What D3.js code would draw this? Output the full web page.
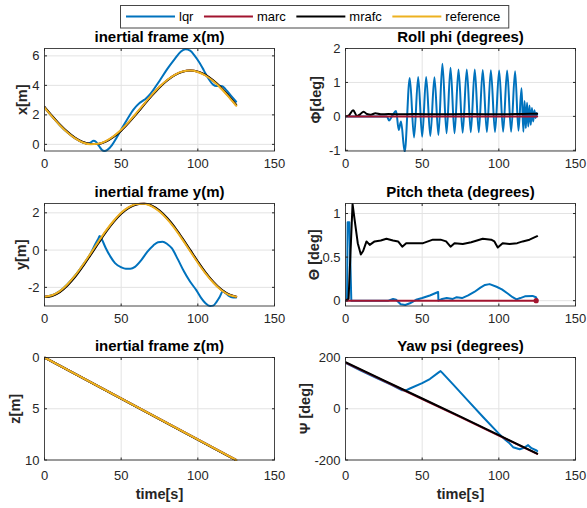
<!DOCTYPE html>
<html>
<head>
<meta charset="utf-8">
<script src="https://cdn.jsdelivr.net/npm/d3@7"></script>
<style>
  html, body { margin: 0; padding: 0; background: #fff; }
  svg { display: block; font-family: "Liberation Sans", Arial, Helvetica, sans-serif; }
</style>
</head>
<body>
<svg id="chart" width="587" height="508"></svg>
<script>
// ---------- data ----------
const seriesNames = ["lqr", "marc", "mrafc", "reference"];

// common 5 s sample grid for the tracked trajectories
const tGrid = [0,5,10,15,20,25,30,35,40,45,50,55,60,65,70,75,80,85,90,95,100,105,110,115,120,125];

// inertial x (m)
const refX   = [2.50,1.88,1.30,0.80,0.40,0.13,0.01,0.04,0.22,0.55,0.99,1.53,2.13,2.75,3.36,3.91,4.37,4.72,4.94,5.00,4.91,4.67,4.29,3.81,3.24,2.62];
const marcX  = [2.52,1.90,1.32,0.82,0.42,0.14,0.02,0.03,0.20,0.53,0.96,1.50,2.10,2.72,3.33,3.89,4.35,4.71,4.93,5.00,4.92,4.69,4.31,3.84,3.27,2.65];
const mrafcX = [2.55,1.93,1.35,0.85,0.44,0.16,0.03,0.02,0.18,0.50,0.93,1.47,2.07,2.69,3.30,3.86,4.33,4.69,4.92,5.00,4.93,4.71,4.34,3.87,3.30,2.68];
const lqrX = [[0,2.5],[5,1.88],[10,1.3],[15,0.8],[20,0.4],[25,0.13],[28,0.04],[30,0.12],[32,0.25],[33.5,0.18],
  [35.5,-0.1],[37.5,-0.38],[39,-0.45],[41,-0.38],[44,-0.05],[47,0.45],[50,1.0],[54,1.7],[58,2.35],[62,2.8],
  [64,2.95],[66,3.1],[68,3.3],[71,3.7],[75,4.3],[80,5.1],[85,5.8],[89,6.3],[92,6.45],[95,6.35],[98,6.0],
  [101,5.55],[104,5.0],[107,4.45],[110,4.05],[112,3.95],[114,3.97],[116,3.95],[118,3.75],[120,3.5],[122,3.25],[125,2.9]];

// inertial y (m)
const refY   = [-2.50,-2.42,-2.20,-1.83,-1.36,-0.80,-0.19,0.43,1.03,1.56,2.00,2.30,2.47,2.49,2.35,2.07,1.66,1.15,0.56,-0.06,-0.68,-1.25,-1.74,-2.13,-2.39,-2.50];
const marcY  = [-2.51,-2.44,-2.23,-1.86,-1.40,-0.84,-0.23,0.39,1.00,1.53,1.98,2.29,2.46,2.50,2.37,2.10,1.69,1.19,0.60,-0.02,-0.64,-1.22,-1.71,-2.11,-2.38,-2.50];
const mrafcY = [-2.52,-2.46,-2.26,-1.90,-1.44,-0.88,-0.27,0.35,0.96,1.50,1.95,2.27,2.45,2.50,2.38,2.12,1.72,1.22,0.63,0.01,-0.61,-1.19,-1.69,-2.09,-2.37,-2.50];
const lqrY = [[0,-2.5],[5,-2.42],[10,-2.2],[15,-1.83],[20,-1.36],[25,-0.8],[30,-0.19],[33,0.3],[35,0.6],[36,0.75],
  [37.5,0.55],[40,0.1],[43,-0.35],[46,-0.7],[50,-0.92],[53,-1.0],[56,-1.0],[59,-0.9],[63,-0.55],[67,-0.1],
  [71,0.25],[74,0.42],[77,0.45],[80,0.33],[83,0.1],[87,-0.5],[91,-1.15],[95,-1.7],[99,-2.15],[102,-2.55],
  [105,-2.85],[108,-3.0],[110,-2.98],[112,-2.8],[114,-2.55],[116.5,-2.2],[118,-2.3],[120,-2.45],[123,-2.55],[125,-2.55]];

// inertial z (m), positive down
const zTime  = [0,125];
const refZ   = [0,10];
const marcZ  = [0,10];
const mrafcZ = [0,10.03];
const lqrZ   = [0,10];

// roll phi (deg)
const lqrRoll = [[0,0],[27,0],[28.4,-0.12],[30.5,0.02],[33,0.16],[34.7,-0.4],[36.2,-0.15],[38.6,-1.05],[41.9,1.13],
  [44.7,-0.62],[47.4,1.16],[50.0,-0.6],[52.6,1.16],[55.3,-0.58],[58.0,1.15],[60.6,-0.55],[63.2,1.55],[65.9,-0.5],
  [68.5,1.43],[71.1,-0.5],[73.7,1.38],[76.4,-0.48],[79.1,1.38],[81.7,-0.47],[84.3,1.38],[86.9,-0.47],[89.5,1.37],
  [92.2,-0.46],[94.8,1.36],[97.5,-0.46],[100.2,1.35],[102.8,-0.45],[105.4,1.35],[108.0,-0.45],[110.6,1.33],
  [112.8,-0.42],[114.8,0.83],[116.0,-0.45],[116.8,0.45],[117.6,-0.35],[118.4,0.4],[119.2,-0.3],[120.0,0.32],
  [120.8,-0.25],[121.6,0.25],[122.4,-0.15],[123.2,0.18],[124.0,-0.05],[124.6,0.1],[125,0.05]];
const marcRoll  = [[0,0],[125,0]];
const mrafcRoll = [[0,0],[2,0.02],[5,0.18],[7.5,0.01],[9.5,0.06],[11.8,0.14],[14,0.07],[16.5,0.05],[19.5,0.09],
  [23,0.06],[28,0.07],[35,0.06],[45,0.07],[60,0.06],[80,0.07],[100,0.06],[115,0.07],[125,0.08]];

// pitch theta (deg)
const lqrPitch = [[0,0],[1.0,0],[1.4,0.9],[2.5,0.9],[3.8,0],[28,0],[31,0.02],[33,0.01],[36,-0.04],[39,-0.05],
  [42,-0.03],[46,0.01],[50,0.03],[55,0.06],[60.4,0.1],[60.6,0],[63,0.02],[66,0.03],[70,0.02],[72.5,0.04],
  [76,0.03],[80,0.06],[84,0.1],[88,0.15],[91,0.18],[94,0.19],[98.5,0.16],[102,0.13],[106,0.08],[109,0.04],
  [111.5,0.015],[114,0.03],[117,0.05],[122,0.055],[124.2,0.04],[125,0.01]];
const marcPitch  = [[0,0],[125,0]];
const mrafcPitch = [[0,0],[2,0.02],[4.6,1.11],[6,0.92],[8,0.66],[10,0.53],[11.5,0.57],[13.7,0.68],[15.8,0.64],
  [19,0.68],[23,0.69],[26.7,0.71],[31,0.69],[34.3,0.68],[37,0.62],[39.6,0.66],[45,0.66],[50.6,0.66],[57,0.7],
  [62,0.7],[65.6,0.68],[68.5,0.62],[71.1,0.66],[76.5,0.65],[82,0.67],[89.5,0.71],[95,0.7],[97.1,0.68],
  [99.3,0.61],[102.5,0.66],[107,0.65],[112,0.66],[115.6,0.68],[120,0.7],[125,0.74]];

// yaw psi (deg)
const yawTime   = [0,25,50,75,100,125];
const marcYaw   = [180,109,38,-33,-105,-176];
const mrafcYaw  = [182,111,40,-31,-103,-175];
const lqrYaw = [[0,179],[10,149],[20,121],[30,93],[35,78],[37,72],[39,71],[42,79],[50,100],[55,116],[61,143],
  [62,147],[63,141],[70,96],[80,31],[90,-34],[100,-97],[104,-120],[107,-135],[109.3,-150],[113.6,-158],
  [116.9,-151],[119.1,-142],[121.3,-154],[124.6,-163],[125,-165]];

// ---------- helpers ----------
const zip = (ts, vs) => ts.map((t, i) => [t, vs[i]]);
const colors = { lqr: "#0072BD", marc: "#A2142F", mrafc: "#000000", reference: "#EDB120" };
const fmt = v => String(v);

const svg = d3.select("#chart");
svg.append("rect").attr("width", 587).attr("height", 508).attr("fill", "#fff");

const colLeft = [44.5, 345.5];
const rowTop  = [48.5, 203.5, 357.5];
const plotW = 230, plotH = 102.5;
const yLabelX = [[22, 20.8, 14.7], [315.6, 314.2, 305]];

const smooth = d3.curveMonotoneX;
const panels = [
  { col: 0, row: 0, title: "inertial frame x(m)", ylabel: "x[m]", yDomain: [-0.45, 6.5], yTicks: [0,2,4,6],
    series: [["lqr", lqrX, smooth], ["marc", zip(tGrid, marcX), smooth], ["mrafc", zip(tGrid, mrafcX), smooth], ["reference", zip(tGrid, refX), smooth]] },
  { col: 1, row: 0, title: "Roll phi (degrees)", ylabel: "\u03A6[deg]", yDomain: [-1.02, 2], yTicks: [-1,0,1,2],
    series: [["lqr", lqrRoll, smooth], ["mrafc", mrafcRoll, smooth], ["marc", marcRoll, d3.curveLinear]] },
  { col: 0, row: 1, title: "inertial frame y(m)", ylabel: "y[m]", yDomain: [-3, 2.5], yTicks: [-2,0,2],
    series: [["lqr", lqrY, smooth], ["marc", zip(tGrid, marcY), smooth], ["mrafc", zip(tGrid, mrafcY), smooth], ["reference", zip(tGrid, refY), smooth]] },
  { col: 1, row: 1, title: "Pitch theta (degrees)", ylabel: "\u0398 [deg]", yDomain: [-0.061, 1.115], yTicks: [0,0.5,1],
    series: [["lqr", lqrPitch, d3.curveLinear], ["mrafc", mrafcPitch, d3.curveLinear], ["marc", marcPitch, d3.curveLinear]],
    endDot: "marc" },
  { col: 0, row: 2, title: "inertial frame z(m)", ylabel: "z[m]", yDomain: [0, 10], reverse: true, yTicks: [0,5,10], xlabel: true,
    series: [["lqr", zip(zTime, lqrZ), d3.curveLinear], ["marc", zip(zTime, marcZ), d3.curveLinear], ["mrafc", zip(zTime, mrafcZ), d3.curveLinear], ["reference", zip(zTime, refZ), d3.curveLinear]] },
  { col: 1, row: 2, title: "Yaw psi (degrees)", ylabel: "\u03A8 [deg]", yDomain: [-200, 200], yTicks: [-200,0,200], xlabel: true,
    series: [["lqr", lqrYaw, d3.curveLinear], ["marc", zip(yawTime, marcYaw), d3.curveLinear], ["mrafc", zip(yawTime, mrafcYaw), d3.curveLinear]] }
];

const xTicks = [0, 50, 100, 150];
const axisColor = "#262626";
const gridColor = "#e3e3e3";
const tickLen = 2.5;

panels.forEach((p, idx) => {
  const L = colLeft[p.col], T = rowTop[p.row], R = L + plotW, B = T + plotH;
  const x = d3.scaleLinear().domain([0, 150]).range([L, R]);
  const y = d3.scaleLinear().domain(p.yDomain).range(p.reverse ? [T, B] : [B, T]);
  const g = svg.append("g");

  // grid
  g.append("g").selectAll("line").data(xTicks.slice(1, -1)).join("line")
    .attr("x1", d => x(d)).attr("x2", d => x(d)).attr("y1", T).attr("y2", B)
    .attr("stroke", gridColor).attr("stroke-width", 1);
  g.append("g").selectAll("line").data(p.yTicks).join("line")
    .attr("x1", L).attr("x2", R).attr("y1", d => y(d)).attr("y2", d => y(d))
    .attr("stroke", gridColor).attr("stroke-width", 1);

  // data lines
  const clipId = "clip" + idx;
  svg.append("clipPath").attr("id", clipId).append("rect")
    .attr("x", L).attr("y", T - 1).attr("width", plotW).attr("height", plotH + 2);
  const lines = g.append("g").attr("clip-path", `url(#${clipId})`);
  p.series.forEach(([name, data, curve]) => {
    const line = d3.line().x(d => x(d[0])).y(d => y(d[1])).curve(curve);
    lines.append("path").attr("d", line(data)).attr("fill", "none")
      .attr("stroke", colors[name]).attr("stroke-width", 2)
      .attr("stroke-linejoin", "round").attr("stroke-linecap", "round");
  });
  if (p.endDot) {
    const s = p.series.find(d => d[0] === p.endDot)[1];
    const last = s[s.length - 1];
    g.append("circle").attr("cx", x(last[0]) - 1).attr("cy", y(last[1])).attr("r", 2.6).attr("fill", colors[p.endDot]);
  }

  // box
  g.append("rect").attr("x", L).attr("y", T).attr("width", plotW).attr("height", plotH)
    .attr("fill", "none").attr("stroke", axisColor).attr("stroke-width", 1).attr("stroke-opacity", 0.85);

  // ticks (inward, all four sides)
  const tk = g.append("g").attr("stroke", axisColor).attr("stroke-width", 1);
  xTicks.forEach(v => {
    tk.append("line").attr("x1", x(v)).attr("x2", x(v)).attr("y1", B).attr("y2", B - tickLen);
    tk.append("line").attr("x1", x(v)).attr("x2", x(v)).attr("y1", T).attr("y2", T + tickLen);
  });
  p.yTicks.forEach(v => {
    tk.append("line").attr("x1", L).attr("x2", L + tickLen).attr("y1", y(v)).attr("y2", y(v));
    tk.append("line").attr("x1", R).attr("x2", R - tickLen).attr("y1", y(v)).attr("y2", y(v));
  });

  // tick labels
  const xLabY = B + (p.row === 2 ? 19.5 : 16.5);
  g.append("g").selectAll("text").data(xTicks).join("text")
    .attr("x", d => x(d)).attr("y", xLabY).attr("text-anchor", "middle")
    .attr("font-size", 13).attr("fill", axisColor).text(fmt);
  g.append("g").selectAll("text").data(p.yTicks).join("text")
    .attr("x", L - 5).attr("y", d => y(d) + 4.6).attr("text-anchor", "end")
    .attr("font-size", 13).attr("fill", axisColor).text(fmt);

  // title
  g.append("text").attr("x", (L + R) / 2).attr("y", T - 6.8).attr("text-anchor", "middle")
    .attr("font-size", 15).attr("font-weight", "bold").attr("fill", "#000").text(p.title);

  // y label
  const yc = (T + B) / 2;
  const lx = yLabelX[p.col][p.row];
  g.append("text").attr("transform", `translate(${lx},${yc}) rotate(-90)`)
    .attr("text-anchor", "middle").attr("dy", "0.35em")
    .attr("font-size", 14.5).attr("font-weight", "bold").attr("fill", axisColor).text(p.ylabel);

  // x label
  if (p.xlabel) {
    g.append("text").attr("x", (L + R) / 2).attr("y", 499).attr("text-anchor", "middle")
      .attr("font-size", 14.5).attr("font-weight", "bold").attr("fill", axisColor).text("time[s]");
  }
});

// ---------- legend ----------
const leg = svg.append("g");
const legBox = leg.append("rect").attr("y", 5.5).attr("height", 22.5)
  .attr("fill", "#fff").attr("stroke", axisColor).attr("stroke-width", 1).attr("stroke-opacity", 0.85);
let cx = 126;
const legY = 16.5;
seriesNames.forEach(name => {
  leg.append("line").attr("x1", cx).attr("x2", cx + 49).attr("y1", legY).attr("y2", legY)
    .attr("stroke", colors[name]).attr("stroke-width", 2);
  const t = leg.append("text").attr("x", cx + 53).attr("y", legY + 4.6)
    .attr("font-size", 13).attr("fill", "#000").text(name);
  cx += 53 + t.node().getComputedTextLength() + 10.5;
});
legBox.attr("x", 120.5).attr("width", cx - 120.5 - 2);
</script>
</body>
</html>
